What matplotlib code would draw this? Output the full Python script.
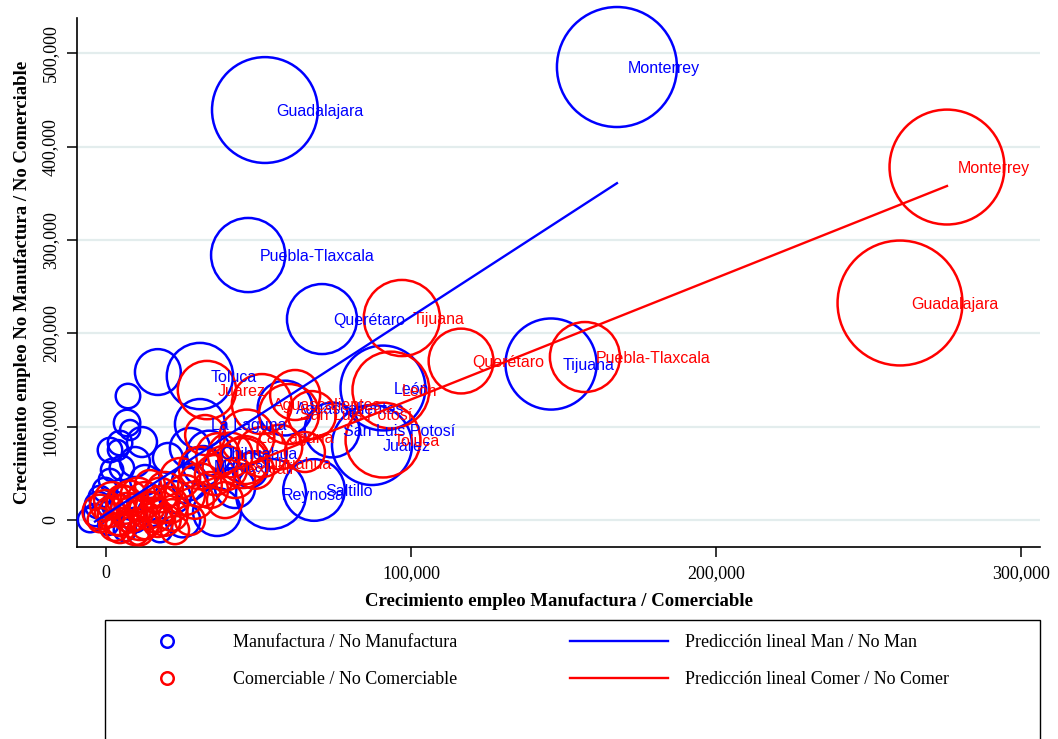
"""Bubble chart: employment growth, manufacturing vs tradable sectors by metro area."""

import matplotlib

matplotlib.use("Agg")
import matplotlib.pyplot as plt
from matplotlib.lines import Line2D
from matplotlib.patches import Rectangle
from matplotlib.ticker import FuncFormatter

BLUE = "#0000ff"
RED = "#ff0000"
GRID = "#e3eded"
SERIF = ["Liberation Serif", "DejaVu Serif"]
SANS = ["Liberation Sans", "DejaVu Sans"]
SIZE_SCALE = 51.84  # weight -> marker area (pt^2)

# Manufactura / No Manufactura (x, y in jobs; weight ~ bubble area)
man_labels = [
    "Monterrey", "Guadalajara", "Puebla-Tlaxcala", "Querétaro", "Tijuana", "León",
    "San Luis Potosí", "Juárez", "Aguascalientes", "Toluca", "La Laguna",
    "Chihuahua", "Mexicali", "Reynosa", "Saltillo",
] + [""] * 32
man_x = [
    167500, 52100, 46600, 70800, 145900, 90800,
    74100, 87200, 58700, 30800, 30800,
    33800, 31800, 54100, 68200,
    17000, 7200, 6900, 11800, 4600, 5200, 9500, -2000, -3600, 1300,
    3000, 9500, 15100, 22600, 27500, 20300, 36400, 25200, 17700, 42300,
    27500, 700, 6200, 12800, 47200,
    -5200, -2600, -330, 2000, 3900, 7900, 1300,
]
man_y = [
    485500, 439400, 284000, 215400, 167200, 141500,
    96500, 80400, 120000, 154300, 102900,
    71800, 57900, 27900, 32200,
    158600, 132900, 104000, 83600, 82500, 55700, 62200, 24700, 5400, 42900,
    16100, 0, 8600, 24700, 40700, 66500, 8600, 0, -10700, 34300,
    77200, -5400, -10700, 42900, 53600,
    0, 16100, 32200, 53600, 75000, 96500, 75000,
]
man_w = [
    144, 112, 55, 49, 83, 72,
    30, 64, 30, 44, 25,
    20, 16, 49, 38,
    21, 6, 7, 9, 6, 6, 9, 5, 5, 5,
    7, 6, 8, 10, 13, 9, 23, 12, 6, 16,
    16, 4, 5, 9, 12,
    6, 7, 6, 5, 4, 4, 6,
]

# Comerciable / No Comerciable
com_labels = [
    "Monterrey", "Guadalajara", "Puebla-Tlaxcala", "Querétaro", "Tijuana", "León",
    "San Luis Potosí", "Toluca", "Aguascalientes", "Juárez", "La Laguna",
    "Chihuahua", "Mexicali",
] + [""] * 53
com_x = [
    275700, 260300, 157000, 116400, 97000, 93400,
    60000, 90800, 51100, 33100, 46200,
    44900, 39000,
    11100, 1300, 5200, 10500, 14400, 19300, 24300, 30800, 36700, 29200,
    21600, 4600, 17000, 51100, 57000, 65200, 42300, 48900, 34100, -2000,
    7900, 12800, 32500, 67500, 62000,
    -330, 2950, 7200, 12800, 17700, 21000, 25900, 14400, 9500, 22600,
    30800, 35700, 40700, 45600, 39000, 27500,
    -2000, 2000, 3900, 6200, 9500, 11100, 13800, 16100, 19300, 4600,
    7900, 17700,
]
com_y = [
    378300, 232600, 174700, 170400, 216500, 139300,
    113600, 85700, 124300, 139300, 89000,
    61100, 55700,
    -12900, 8600, 21400, 26800, 13900, 32200, 45000, 55700, 69700, 21400,
    5400, -2100, -2100, 72900, 78200, 72900, 45000, 53600, 32200, 0,
    5400, -5400, 91100, 112500, 134000,
    16100, -5400, 10700, 21400, 26800, 16100, 26800, 37500, -10700, -10700,
    37500, 48200, 69700, 64300, 21400, 0,
    8600, 21400, 5400, 16100, 8600, 0, 10700, 5400, 0, -8600,
    23600, 16100,
]
com_w = [
    132, 156, 49, 42, 58, 59,
    36, 56, 36, 34, 30,
    25, 20,
    7, 9, 9, 12, 9, 13, 16, 18, 19, 14,
    10, 8, 9, 25, 20, 16, 16, 14, 13, 6,
    12, 8, 16, 23, 25,
    9, 10, 12, 13, 12, 13, 16, 9, 9, 8,
    19, 16, 20, 23, 13, 9,
    12, 13, 16, 14, 13, 16, 14, 12, 10, 9,
    12, 14,
]

# linear predictions (endpoints)
fit_man_x = [-3600, 167500]
fit_man_y = [-1600, 361000]
fit_com_x = [-2000, 275700]
fit_com_y = [-3600, 358000]

X_TICKS = [0, 100000, 200000, 300000]
Y_TICKS = [0, 100000, 200000, 300000, 400000, 500000]


def _bubbles(ax, xs, ys, ws, labels, color):
    ax.scatter(
        xs, ys, s=[w * SIZE_SCALE for w in ws], facecolors="none",
        edgecolors=color, linewidths=1.8, zorder=3, clip_on=False,
    )
    for x, y, label in zip(xs, ys, labels):
        if label:
            ax.annotate(
                label, (x, y), xytext=(8, -1), textcoords="offset points",
                ha="left", va="center", color=color, fontsize=11.5,
                family=SANS, zorder=4,
            )


def main() -> None:
    fig = plt.figure(figsize=(10.58, 7.39), dpi=100)
    ax = fig.add_axes([0.0728, 0.2598, 0.9102, 0.7158])

    _bubbles(ax, man_x, man_y, man_w, man_labels, BLUE)
    _bubbles(ax, com_x, com_y, com_w, com_labels, RED)
    ax.plot(fit_man_x, fit_man_y, color=BLUE, lw=1.7, zorder=5)
    ax.plot(fit_com_x, fit_com_y, color=RED, lw=1.7, zorder=5)

    ax.set_xlim(-9500, 306200)
    ax.set_ylim(-28900, 538000)
    ax.set_xticks(X_TICKS)
    ax.set_yticks(Y_TICKS)
    fmt = FuncFormatter(lambda v, _: f"{int(v):,}")
    ax.xaxis.set_major_formatter(fmt)
    ax.yaxis.set_major_formatter(fmt)
    ax.yaxis.grid(True, color=GRID, lw=1.6, zorder=0)
    ax.set_axisbelow(True)
    for side in ("top", "right"):
        ax.spines[side].set_visible(False)
    for side in ("left", "bottom"):
        ax.spines[side].set_linewidth(1.2)
    ax.tick_params(direction="out", length=7, width=1.1, labelsize=13, pad=6)
    for lab in ax.get_xticklabels() + ax.get_yticklabels():
        lab.set_family(SERIF)
    for lab in ax.get_yticklabels():
        lab.set_rotation(90)
        lab.set_va("center")

    ax.set_xlabel("Crecimiento empleo Manufactura / Comerciable", family=SERIF,
                  fontsize=13.5, fontweight="bold", labelpad=8)
    ax.set_ylabel("Crecimiento empleo No Manufactura / No Comerciable", family=SERIF,
                  fontsize=13.5, fontweight="bold", labelpad=8)

    # legend box runs off the bottom of the figure
    fig.patches.append(Rectangle(
        (105 / 1058, -0.05), 935 / 1058, 1.05 - 620 / 739, transform=fig.transFigure,
        facecolor="white", edgecolor="black", lw=1.0,
    ))
    circle_handles = [
        Line2D([], [], ls="none", marker="o", ms=9, mfc="none", mec=BLUE, mew=1.8),
        Line2D([], [], ls="none", marker="o", ms=9, mfc="none", mec=RED, mew=1.8),
    ]
    line_handles = [
        Line2D([], [], color=BLUE, lw=1.7),
        Line2D([], [], color=RED, lw=1.7),
    ]
    common = dict(frameon=False, loc="upper left", borderpad=0, borderaxespad=0,
                  handlelength=5.4, handletextpad=0.95, labelspacing=1.1,
                  prop={"family": SERIF, "size": 13})
    fig.legend(circle_handles,
               ["Manufactura / No Manufactura", "Comerciable / No Comerciable"],
               bbox_to_anchor=(118 / 1058, 1 - 634 / 739), **common)
    fig.legend(line_handles,
               ["Predicción lineal Man / No Man", "Predicción lineal Comer / No Comer"],
               bbox_to_anchor=(570 / 1058, 1 - 634 / 739), **common)

    fig.savefig("out.png", dpi=100)
    plt.close(fig)


if __name__ == "__main__":
    main()
